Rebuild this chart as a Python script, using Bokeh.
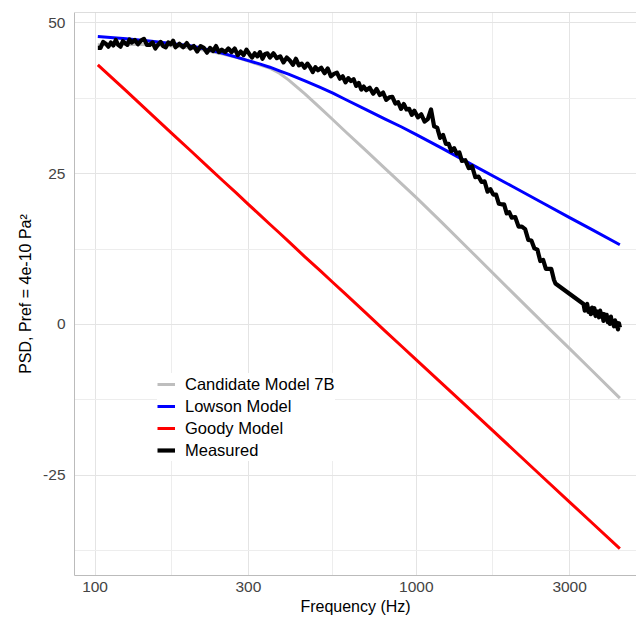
from bokeh.plotting import figure
from bokeh.models import (Range1d, FixedTicker, PrintfTickFormatter, Legend,
                          LegendItem, Span, ColumnDataSource)
from bokeh.embed import file_html
from bokeh.resources import INLINE

# ---------------- data ----------------
x_ticks = [100, 300, 1000, 3000]
x_minor = [173.2, 547.7, 1732.1]
y_ticks = [-25, 0, 25, 50]
y_minor = [-37.5, -12.5, 12.5, 37.5]

model_freq = [102, 125, 150, 175, 200, 225, 250, 275, 300, 325, 350, 375, 400,
              450, 500, 550, 600, 700, 800, 900, 1000, 1200, 1500, 2000, 2500,
              3000, 3500, 4300]
candidate_7b = [46.3, 46.4, 46.3, 46.1, 45.8, 45.3, 44.8, 44.25, 43.6, 43.0,
                42.45, 41.6, 40.5, 38.2, 35.95, 33.9, 32.0, 28.7, 25.8, 23.3,
                21.0, 16.9, 11.8, 5.2, 0.1, -4.0, -7.5, -12.2]
lowson = [47.7, 47.3, 46.9, 46.5, 46.1, 45.5, 44.9, 44.3, 43.7, 43.15, 42.6,
          42.0, 41.45, 40.35, 39.3, 38.3, 37.3, 35.55, 34.0, 32.7, 31.45, 29.2,
          26.4, 22.8, 20.0, 17.7, 15.8, 13.2]
goody = [43.0, 38.7, 34.75, 31.45, 28.6, 26.05, 23.8, 21.8, 19.9, 18.2, 16.6,
         15.15, 13.75, 11.2, 9.0, 6.95, 5.1, 1.8, -1.1, -3.6, -5.85, -9.75,
         -14.5, -20.7, -25.5, -29.4, -32.7, -37.1]

# measured spectrum (noisy), read piece by piece
meas_freq = [
    102, 104, 106, 108, 110, 112, 114, 116, 118, 120, 122, 124, 126, 128, 130,
    133, 136, 139, 142, 145, 148, 151, 154, 157, 160, 163, 166, 169, 172, 175, 178,
    183, 188, 193, 198, 203, 208, 213, 218, 223, 228, 233, 238, 243, 248,
    254, 260, 266, 272, 278, 284, 290, 296, 302, 308, 314, 320, 326, 332, 338, 344, 350,
    359, 368, 377, 386, 395, 404, 413, 422, 431, 440, 449, 458, 467, 476, 485, 494,
    506, 518, 530, 542, 554, 566, 578, 590, 602, 614, 626, 638, 650, 662, 674, 686, 698,
    716, 734, 752, 770, 788, 806, 824, 842, 860, 878, 896, 914, 932, 950, 968, 986,
    1011, 1036, 1061, 1086, 1111, 1136, 1161, 1186, 1211, 1236, 1261, 1286, 1311, 1336, 1361, 1386,
    1421, 1456, 1491, 1526, 1561, 1596, 1631, 1666, 1701, 1736, 1771, 1806, 1841, 1876, 1911, 1946, 1981,
    2031, 2081, 2131, 2181, 2231, 2281, 2331, 2381, 2431, 2481, 2531, 2581, 2631, 2681, 2710,
    3313, 3343, 3373, 3403, 3433, 3463, 3493, 3523, 3553, 3583, 3613, 3643, 3673, 3703, 3733, 3763, 3793,
    3823, 3853, 3883, 3913, 3943, 3973, 4003, 4033, 4063, 4093, 4123, 4153, 4183, 4213, 4243, 4273, 4303,
]
meas_psd = [
    45.8, 45.8, 46.8, 46.5, 46.0, 46.7, 46.2, 47.1, 46.3, 46.0, 46.9, 46.6, 46.3, 47.2, 46.7,
    47.1, 46.4, 47.0, 47.3, 46.3, 46.3, 46.7, 45.7, 46.3, 46.8, 46.1, 45.9, 46.7, 46.4, 47.0, 45.9,
    46.5, 45.9, 46.6, 45.7, 46.1, 45.2, 46.1, 45.8, 45.0, 45.8, 45.3, 46.1, 45.1, 45.5,
    45.1, 45.7, 45.1, 45.7, 44.6, 45.2, 44.6, 45.5, 44.8, 44.2, 44.9, 44.4, 45.1, 44.0, 44.8, 44.9, 44.2,
    44.9, 44.1, 44.4, 43.4, 44.2, 43.7, 43.0, 44.0, 42.9, 43.2, 42.5, 43.2, 42.6, 41.8, 42.6, 42.1,
    42.5, 41.6, 42.4, 41.1, 41.5, 41.7, 40.7, 41.1, 40.1, 40.8, 40.3, 40.6, 39.5, 40.0, 38.9, 39.4, 38.8,
    39.2, 38.2, 39.0, 38.0, 38.4, 37.2, 37.6, 37.7, 36.6, 36.8, 35.7, 36.5, 35.6, 35.7, 34.7, 35.4,
    34.3, 34.8, 33.6, 34.0, 35.6, 32.8, 32.6, 30.9, 31.4, 29.9, 29.9, 28.7, 29.2, 28.3, 28.5, 27.1,
    27.2, 25.9, 26.2, 24.4, 24.5, 23.6, 23.7, 22.0, 22.4, 21.5, 21.5, 20.0, 19.9, 19.9, 18.4, 18.6, 17.7,
    17.8, 16.2, 16.2, 15.8, 14.0, 13.9, 12.6, 12.4, 10.5, 10.7, 9.2, 9.2, 9.2, 7.4, 6.8,
    3.4, 2.3, 3.0, 3.4, 2.1, 2.6, 1.7, 2.8, 1.9, 2.7, 1.4, 2.2, 1.8, 1.2, 2.3, 1.3, 1.8,
    0.6, 1.7, 1.0, 1.6, 0.4, 1.0, 0.1, 1.3, 0.2, 0.5, -0.3, 0.7, -0.3, 0.3, -0.8, 0.2, -0.5,
]

x_title = "Frequency (Hz)"
y_title = "PSD, Pref = 4e-10 Pa\u00b2"

n = min(len(meas_freq), len(meas_psd))
meas_freq, meas_psd = meas_freq[:n], meas_psd[:n]

# ---------------- figure ----------------
FONT = "Liberation Sans"
p = figure(width=636, height=619, x_axis_type="log",
           x_range=Range1d(86.3, 4845), y_range=Range1d(-41.56, 51.66),
           output_backend="svg", toolbar_location=None,
           min_border_left=74, min_border_right=0,
           min_border_top=12, min_border_bottom=44)
p.outline_line_color = None
p.background_fill_color = "white"

p.xaxis.ticker = FixedTicker(ticks=x_ticks, minor_ticks=x_minor)
p.xaxis.formatter = PrintfTickFormatter(format="%d")
p.yaxis.ticker = FixedTicker(ticks=y_ticks, minor_ticks=y_minor)
p.yaxis.formatter = PrintfTickFormatter(format="%d")

for ax in (p.xaxis[0], p.yaxis[0]):
    ax.axis_line_color = "#BBBBBB"
    ax.axis_line_width = 1
    ax.major_tick_line_color = None
    ax.minor_tick_line_color = None
    ax.major_tick_out = 0
    ax.major_tick_in = 0
    ax.minor_tick_out = 0
    ax.minor_tick_in = 0
    ax.major_label_text_font = FONT
    ax.major_label_text_font_size = "15.5px"
    ax.major_label_text_color = "#444444"
    ax.axis_label_text_font = FONT
    ax.axis_label_text_font_size = "16px"
    ax.axis_label_text_font_style = "normal"
    ax.axis_label_text_color = "#000000"

p.xaxis.axis_label = x_title
p.yaxis.axis_label = y_title
p.xaxis.major_label_standoff = 6
p.xaxis.axis_label_standoff = 3
p.yaxis.major_label_standoff = 9
p.yaxis.axis_label_standoff = 6

for g in (p.xgrid[0], p.ygrid[0]):
    g.grid_line_color = "#E4E4E4"
    g.grid_line_width = 1
    g.minor_grid_line_color = "#EDEDED"
    g.minor_grid_line_width = 1

p.add_layout(Span(location=51.66, dimension="width",
                  line_color="#BBBBBB", line_width=1))

src_m = ColumnDataSource(dict(f=model_freq, cand=candidate_7b,
                              low=lowson, goody=goody))
src_meas = ColumnDataSource(dict(f=meas_freq, psd=meas_psd))

r_cand = p.line("f", "cand", source=src_m, line_color="#BEBEBE",
                line_width=3, line_join="round")
r_low = p.line("f", "low", source=src_m, line_color="#0000FF",
               line_width=3, line_join="round")
r_goody = p.line("f", "goody", source=src_m, line_color="#FF0000",
                 line_width=3, line_join="round")
r_meas = p.line("f", "psd", source=src_meas, line_color="#000000",
                line_width=4.2, line_join="round")

legend = Legend(items=[LegendItem(label="Candidate Model 7B", renderers=[r_cand]),
                       LegendItem(label="Lowson Model", renderers=[r_low]),
                       LegendItem(label="Goody Model", renderers=[r_goody]),
                       LegendItem(label="Measured", renderers=[r_meas])],
                location=(83, 114), orientation="vertical",
                glyph_width=18, glyph_height=22, label_height=22,
                spacing=0, padding=10, margin=0, label_standoff=10,
                label_text_font=FONT, label_text_font_size="16.5px",
                label_text_color="#000000",
                background_fill_color="white", background_fill_alpha=1.0,
                border_line_color=None)
p.add_layout(legend)

open("out.html", "w").write(file_html(p, INLINE))
